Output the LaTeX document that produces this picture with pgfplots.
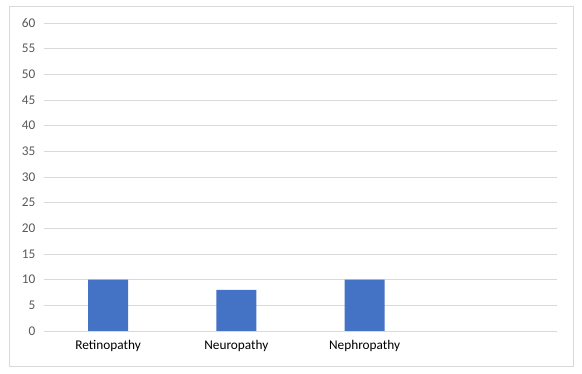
\documentclass[border=0pt]{standalone}
\usepackage{pgfplots}
\pgfplotsset{compat=1.18}
\usepackage{fontspec}
\setmainfont{Carlito}
\definecolor{barblue}{HTML}{4472C4}
\definecolor{gridgray}{HTML}{D9D9D9}
\definecolor{textgray}{HTML}{595959}
\begin{document}
\begin{tikzpicture}[x=1pt,y=1pt]
\path[use as bounding box] (0,0) rectangle (582,374);
\draw[gridgray, line width=0.75pt] (9.5,7.5) rectangle (573.5,367.5);
\begin{axis}[
  at={(44pt,43pt)}, anchor=south west,
  scale only axis, width=513pt, height=308pt,
  xmin=-0.5, xmax=3.5, ymin=0, ymax=60,
  ytick={0,5,...,60},
  xtick={0,1,2},
  xticklabels={Retinopathy,Neuropathy,Nephropathy},
  axis line style={draw=none},
  major tick length=0pt,
  ymajorgrids, grid style={gridgray, line width=0.75pt},
  tick label style={font=\fontsize{13.3}{14}\selectfont, text=textgray},
  xticklabel style={text=black, yshift=-6pt},
  yticklabel style={xshift=-5pt},
  /pgf/number format/assume math mode=true,
]
\addplot[ybar, bar width=40pt, fill=barblue, draw=none] coordinates {(0,10) (1,8) (2,10)};
\end{axis}
\end{tikzpicture}
\end{document}
